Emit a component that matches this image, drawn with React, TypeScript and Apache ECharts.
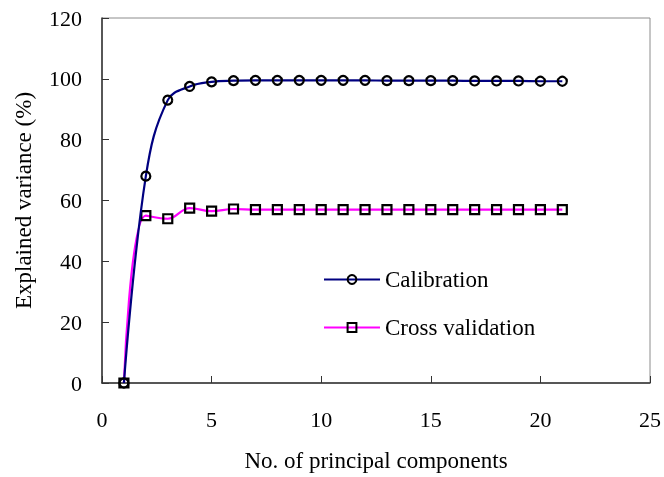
import React, { useEffect, useRef } from "react";
import * as echarts from "echarts";

const components = [1, 2, 3, 4, 5, 6, 7, 8, 9, 10, 11, 12, 13, 14, 15, 16, 17, 18, 19, 20, 21];
const calibration = [0, 68, 93, 97.5, 99, 99.4, 99.5, 99.5, 99.5, 99.5, 99.5, 99.5, 99.4, 99.4, 99.4, 99.4, 99.3, 99.3, 99.3, 99.2, 99.2];
const crossValidation = [0, 55, 54, 57.5, 56.5, 57.2, 57, 57, 57, 57, 57, 57, 57, 57, 57, 57, 57, 57, 57, 57, 57];
const xTicks = { min: 0, max: 25, interval: 5 };
const yTicks = { min: 0, max: 120, interval: 20 };

const FONT = "Liberation Serif";

export default function App() {
  const ref = useRef<HTMLDivElement>(null);
  useEffect(() => {
    if (!ref.current) return;
    const chart = echarts.init(ref.current, undefined, { renderer: "svg" });
    chart.setOption({
      animation: false,
      textStyle: { fontFamily: FONT },
      grid: {
        left: 102, top: 18, right: 11, bottom: 93,
        show: true, borderColor: "#8c8c8c", borderWidth: 1,
      },
      legend: {
        orient: "vertical",
        left: 323, top: 268, padding: 0,
        itemWidth: 56, itemHeight: 11, itemGap: 25,
        textStyle: { fontFamily: FONT, fontSize: 23, color: "#000" },
        data: ["Calibration", "Cross validation"],
      },
      xAxis: {
        type: "value",
        ...xTicks,
        name: "No. of principal components",
        nameLocation: "middle",
        nameGap: 66,
        nameTextStyle: { fontFamily: FONT, fontSize: 23, color: "#000" },
        axisLine: { lineStyle: { color: "#333", width: 1.5 } },
        axisTick: { inside: true, length: 7, lineStyle: { color: "#333" } },
        axisLabel: { fontFamily: FONT, fontSize: 22, color: "#000", margin: 25 },
        splitLine: { show: false },
      },
      yAxis: {
        type: "value",
        ...yTicks,
        name: "Explained variance (%)",
        nameLocation: "middle",
        nameGap: 67,
        nameTextStyle: { fontFamily: FONT, fontSize: 23, color: "#000" },
        axisLine: { show: true, lineStyle: { color: "#333", width: 1.5 } },
        axisTick: { show: true, inside: true, length: 7, lineStyle: { color: "#333" } },
        axisLabel: { fontFamily: FONT, fontSize: 22, color: "#000", margin: 20 },
        splitLine: { show: false },
      },
      series: [
        {
          name: "Calibration",
          type: "line",
          smooth: 0.4,
          data: components.map((c, i) => [c, calibration[i]]),
          symbol: "circle",
          symbolSize: 9,
          lineStyle: { color: "#000080", width: 2.2 },
          itemStyle: { color: "rgba(255,255,255,0)", borderColor: "#000", borderWidth: 2.2 },
          z: 3,
        },
        {
          name: "Cross validation",
          type: "line",
          smooth: 0.4,
          data: components.map((c, i) => [c, crossValidation[i]]),
          symbol: "rect",
          symbolSize: 9,
          lineStyle: { color: "#ff00ff", width: 2.2 },
          itemStyle: { color: "rgba(255,255,255,0)", borderColor: "#000", borderWidth: 2.2 },
          z: 2,
        },
      ],
    });
    return () => chart.dispose();
  }, []);
  return <div ref={ref} style={{ position: "fixed", left: 0, top: 0, width: 664, height: 477 }} />;
}
